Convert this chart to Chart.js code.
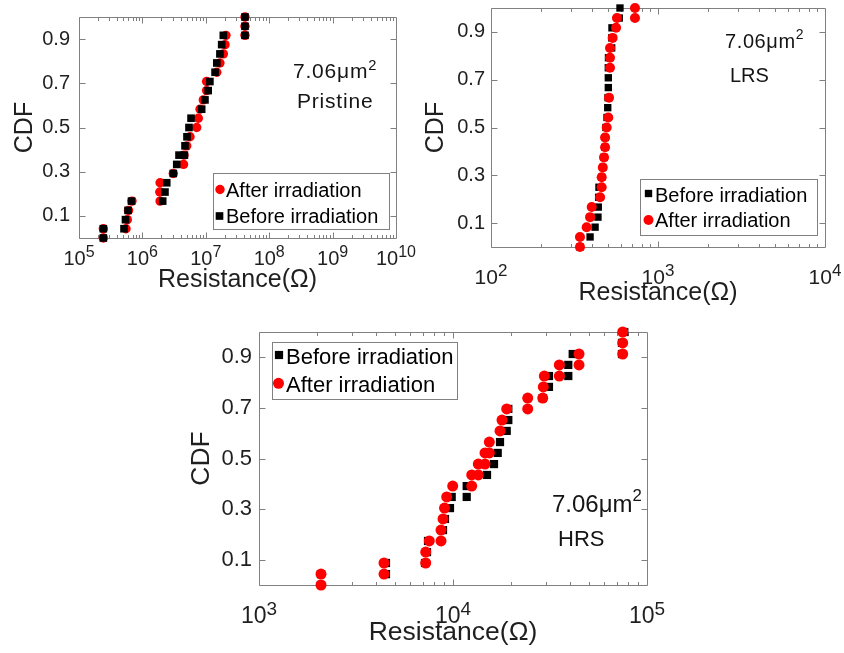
<!DOCTYPE html>
<html>
<head>
<meta charset="utf-8">
<script src="https://cdn.jsdelivr.net/npm/chart.js@4/dist/chart.umd.min.js"></script>
<style>
html,body{margin:0;padding:0;background:#fff;}
#wrap{position:relative;width:844px;height:653px;overflow:hidden;background:#fff;font-family:"Liberation Sans",Arial,sans-serif;color:#141414;}
canvas{position:absolute;}
.note{position:absolute;white-space:nowrap;line-height:1;}
.sup{font-size:0.7em;position:relative;}
</style>
</head>
<body>
<div id="wrap">
  <canvas id="cPristine" width="420" height="305" style="left:0;top:0;width:420px;height:305px"></canvas>
  <canvas id="cLRS" width="424" height="315" style="left:420px;top:0;width:424px;height:315px"></canvas>
  <canvas id="cHRS" width="500" height="338" style="left:170px;top:315px;width:500px;height:338px"></canvas>
  <div class="note" style="left:293px;top:60px;font-size:21px;letter-spacing:0.8px">7.06μm<span class="sup" style="top:-8px">2</span></div>
  <div class="note" style="left:297px;top:90px;font-size:21px;letter-spacing:0.8px">Pristine</div>
  <div class="note" style="left:725px;top:31px;font-size:20px;letter-spacing:0.6px">7.06μm<span class="sup" style="top:-9px">2</span></div>
  <div class="note" style="left:730px;top:65px;font-size:20px">LRS</div>
  <div class="note" style="left:552px;top:492px;font-size:24px">7.06μm<span class="sup" style="top:-11px">2</span></div>
  <div class="note" style="left:558px;top:528px;font-size:22px">HRS</div>
</div>
<script>
// ---------------- data ----------------
const seriesLabels = ['Before irradiation', 'After irradiation'];
const cdfTicks = [0.1, 0.3, 0.5, 0.7, 0.9];
const pristineXTicks = [1e5, 1e6, 1e7, 1e8, 1e9, 1e10];
const lrsXTicks = [1e2, 1e3, 1e4];
const hrsXTicks = [1e3, 1e4, 1e5];

// Pristine (Ohm)
const pristineBeforeR = [2.42e5, 2.42e5, 5.13e5, 5.41e5, 5.93e5, 6.73e5, 2.09e6, 2.27e6, 2.42e6, 3.07e6, 3.48e6, 3.78e6, 4.6e6, 4.70e6, 5.05e6, 5.43e6, 5.85e6, 8.61e6, 9.70e6, 1.09e7, 1.16e7, 1.40e7, 1.49e7, 1.67e7, 1.78e7, 1.89e7, 4.15e7, 4.15e7, 4.15e7];
const pristineBeforeCDF = [0, 0.042, 0.042, 0.083, 0.125, 0.167, 0.167, 0.208, 0.25, 0.292, 0.333, 0.375, 0.375, 0.417, 0.458, 0.5, 0.542, 0.583, 0.625, 0.667, 0.708, 0.75, 0.792, 0.833, 0.875, 0.917, 0.917, 0.958, 1];
const pristineAfterR = [2.42e5, 2.42e5, 5.51e5, 5.78e5, 6.04e5, 6.85e5, 1.90e6, 1.88e6, 1.90e6, 3.07e6, 4.45e6, 4.53e6, 5.00e6, 5.64e6, 7.19e6, 7.62e6, 8.11e6, 9.14e6, 1.03e7, 1.03e7, 1.49e7, 1.67e7, 1.89e7, 2.01e7, 2.08e7, 4.15e7, 4.15e7, 4.15e7];
const pristineAfterCDF = [0, 0.042, 0.042, 0.083, 0.125, 0.167, 0.167, 0.208, 0.25, 0.292, 0.333, 0.375, 0.417, 0.458, 0.5, 0.542, 0.583, 0.625, 0.667, 0.708, 0.75, 0.792, 0.833, 0.875, 0.917, 0.917, 0.958, 1];

// LRS (Ohm)
const lrsBeforeR = [341, 392, 420, 437, 439, 441, 443, 460, 467, 475, 482, 484, 488, 495, 500, 502, 504, 504, 504, 505, 528, 528, 530, 586, 592];
const lrsBeforeCDF = [0, 0.042, 0.083, 0.125, 0.167, 0.208, 0.25, 0.292, 0.333, 0.375, 0.417, 0.458, 0.5, 0.542, 0.583, 0.625, 0.667, 0.708, 0.75, 0.792, 0.833, 0.875, 0.917, 0.958, 1];
const lrsAfterR = [341, 341, 374, 392, 401, 450, 460, 460, 467, 475, 482, 482, 493, 504, 509, 516, 516, 516, 535, 561, 568, 728, 728];
const lrsAfterCDF = [0, 0.042, 0.083, 0.125, 0.167, 0.208, 0.25, 0.292, 0.333, 0.375, 0.417, 0.458, 0.5, 0.542, 0.625, 0.75, 0.792, 0.833, 0.875, 0.917, 0.958, 0.958, 1];

// HRS (Ohm)
const hrsBeforeR = [2087, 2087, 4514, 4514, 7173, 7345, 7432, 8882, 9094, 9650, 9847, 11765, 11765, 14976, 16268, 17002, 17473, 18918, 19282, 19282, 29008, 31241, 31241, 39295, 39295, 41400, 74310, 74310, 76380];
const hrsBeforeCDF = [0, 0.043, 0.043, 0.087, 0.087, 0.13, 0.174, 0.217, 0.261, 0.304, 0.348, 0.348, 0.391, 0.435, 0.478, 0.522, 0.565, 0.609, 0.652, 0.696, 0.739, 0.783, 0.826, 0.826, 0.87, 0.913, 0.913, 0.957, 1];
const hrsAfterR = [2087, 2087, 4410, 4410, 7233, 7233, 7547, 8674, 8674, 8882, 9041, 9279, 9965, 12489, 12489, 13502, 13502, 14622, 14622, 15386, 15386, 17473, 17884, 18918, 24272, 24272, 29008, 29215, 29560, 35318, 35318, 44620, 44620, 74929, 74929, 74929];
const hrsAfterCDF = [0, 0.043, 0.043, 0.087, 0.087, 0.13, 0.174, 0.174, 0.217, 0.261, 0.304, 0.348, 0.391, 0.391, 0.435, 0.435, 0.478, 0.478, 0.522, 0.522, 0.565, 0.609, 0.652, 0.696, 0.696, 0.739, 0.739, 0.783, 0.826, 0.826, 0.87, 0.87, 0.913, 0.913, 0.957, 1];

// ---------------- helpers ----------------
const FONT = '"Liberation Sans", Arial, sans-serif';
const TXT = '#1f1f1f';
const FRAME = '#808080';
function pts(xs, ys) { return xs.map((x, i) => ({x: x, y: ys[i]})); }

const panelStyles = {};

// frame with inward major/minor ticks (MATLAB-like box)
const framePlugin = {
  id: 'matlabFrame',
  beforeDatasetsDraw(chart) {
    const {ctx, chartArea: a, scales} = chart;
    const xs = scales.x, ys = scales.y;
    const L = Math.round(a.left) + 0.5, R = Math.round(a.right) + 0.5;
    const T = Math.round(a.top) + 0.5, B = Math.round(a.bottom) + 0.5;
    ctx.save();
    ctx.strokeStyle = FRAME;
    ctx.lineWidth = 1;
    ctx.beginPath();
    ctx.rect(L, T, R - L, B - T);
    const lo = Math.round(Math.log10(xs.min)), hi = Math.round(Math.log10(xs.max));
    for (let e = lo; e < hi; e++) {
      for (let m = 1; m <= 9; m++) {
        const v = m * Math.pow(10, e);
        const px = Math.round(xs.getPixelForValue(v)) + 0.5;
        const len = m === 1 ? 6 : 3.5;
        ctx.moveTo(px, B); ctx.lineTo(px, B - len);
        ctx.moveTo(px, T); ctx.lineTo(px, T + len);
      }
    }
    ys.ticks.forEach(t => {
      const py = Math.round(ys.getPixelForValue(t.value)) + 0.5;
      ctx.moveTo(L, py); ctx.lineTo(L + 6, py);
      ctx.moveTo(R, py); ctx.lineTo(R - 6, py);
    });
    ctx.stroke();
    ctx.restore();
  },
  // x tick labels 10^n with a true superscript, placed at the scale's tick positions
  afterDraw(chart) {
    const st = panelStyles[chart.canvas.id];
    const {ctx, chartArea: a} = chart;
    const xs = chart.scales.x;
    ctx.save();
    ctx.fillStyle = TXT;
    ctx.textBaseline = 'alphabetic';
    ctx.textAlign = 'left';
    xs.ticks.forEach(t => {
      const px = xs.getPixelForValue(t.value);
      const base = '10';
      const exp = String(Math.round(Math.log10(t.value)));
      ctx.font = st.xLabelSize + 'px ' + FONT;
      const wb = ctx.measureText(base).width;
      ctx.font = st.xExpSize + 'px ' + FONT;
      const we = ctx.measureText(exp).width;
      const x0 = px - (wb + we) / 2;
      const yb = a.bottom + st.xLabelBase;
      ctx.font = st.xLabelSize + 'px ' + FONT;
      ctx.fillText(base, x0, yb);
      ctx.font = st.xExpSize + 'px ' + FONT;
      ctx.fillText(exp, x0 + wb, yb - st.xExpRaise);
    });
    ctx.restore();
  }
};

const boxLegendPlugin = {
  id: 'boxLegend',
  afterDatasetsDraw(chart) {
    const o = panelStyles[chart.canvas.id].legend;
    const ctx = chart.ctx;
    ctx.save();
    ctx.fillStyle = '#ffffff';
    ctx.fillRect(o.x, o.y, o.w, o.h);
    ctx.strokeStyle = FRAME;
    ctx.lineWidth = 1;
    ctx.strokeRect(Math.round(o.x) + 0.5, Math.round(o.y) + 0.5, Math.round(o.w), Math.round(o.h));
    o.rows.forEach(r => {
      const ds = chart.data.datasets[r.index];
      ctx.fillStyle = ds.backgroundColor;
      if (ds.pointStyle === 'circle') {
        ctx.beginPath(); ctx.arc(r.mx, r.my, ds.pointRadius, 0, Math.PI * 2); ctx.fill();
      } else {
        const s = ds.pointRadius * Math.SQRT1_2;
        ctx.fillRect(r.mx - s, r.my - s, 2 * s, 2 * s);
      }
      ctx.fillStyle = '#000';
      ctx.font = o.fontSize + 'px ' + FONT;
      ctx.textBaseline = 'alphabetic';
      ctx.textAlign = 'left';
      ctx.fillText(ds.label, o.textX, r.baseline);
    });
    ctx.restore();
  }
};

function makePanel(id, p) {
  panelStyles[id] = p;
  const datasets = [
    {label: seriesLabels[0], data: pts(p.beforeR, p.beforeCDF), pointStyle: 'rect', pointRadius: p.sq, backgroundColor: '#000000', borderWidth: 0, order: p.beforeOrder, clip: false},
    {label: seriesLabels[1], data: pts(p.afterR, p.afterCDF), pointStyle: 'circle', pointRadius: p.circ, backgroundColor: '#ff0000', borderWidth: 0, order: p.afterOrder, clip: false}
  ];
  if (p.afterFirst) datasets.reverse();
  new Chart(document.getElementById(id), {
    type: 'scatter',
    data: {datasets: datasets},
    options: {
      responsive: false, animation: false, devicePixelRatio: 1, events: [],
      layout: {padding: {top: p.padTop, right: p.padRight, left: 0, bottom: 0}},
      plugins: {legend: {display: false}, tooltip: {enabled: false}},
      elements: {point: {hoverRadius: 0}},
      scales: {
        x: {
          type: 'logarithmic', min: p.xTicks[0], max: p.xTicks[p.xTicks.length - 1],
          afterBuildTicks: s => { s.ticks = p.xTicks.map(v => ({value: v})); },
          afterFit: s => { s.height = p.xH; s.paddingLeft = 0; s.paddingRight = 0; },
          grid: {display: false, drawTicks: false}, border: {display: false},
          ticks: {display: false},
          title: {display: true, text: 'Resistance(Ω)', color: TXT, font: {family: FONT, size: p.titleSize}, padding: {top: 0, bottom: p.xTitlePad}}
        },
        y: {
          type: 'linear', min: 0, max: 1,
          afterBuildTicks: s => { s.ticks = cdfTicks.map(v => ({value: v})); },
          afterFit: s => { s.width = p.yW; s.paddingTop = 0; s.paddingBottom = 0; },
          grid: {display: false, drawTicks: false}, border: {display: false},
          ticks: {callback: v => Number(v).toFixed(1), font: {family: FONT, size: p.tickSize}, color: TXT, padding: p.yTickPad},
          title: {display: true, text: 'CDF', color: TXT, font: {family: FONT, size: p.titleSize}, padding: {top: p.yTitlePad, bottom: 0}}
        }
      }
    },
    plugins: [framePlugin, boxLegendPlugin]
  });
}

// Pristine: legend lists "After" first, black drawn on top
makePanel('cPristine', {
  beforeR: pristineBeforeR, beforeCDF: pristineBeforeCDF, afterR: pristineAfterR, afterCDF: pristineAfterCDF,
  afterFirst: true, beforeOrder: 1, afterOrder: 2, sq: 5.4, circ: 4.7,
  xTicks: pristineXTicks, padTop: 17, padRight: 24, yW: 79, xH: 67,
  tickSize: 20, titleSize: 25, yTickPad: 9, xTitlePad: 10, yTitlePad: 10,
  xLabelSize: 20, xExpSize: 16, xLabelBase: 27, xExpRaise: 8,
  legend: {x: 213, y: 173, w: 176, h: 56, textX: 226, fontSize: 20,
    rows: [{index: 0, mx: 220, my: 189.5, baseline: 196.5}, {index: 1, mx: 219.5, my: 216, baseline: 223.3}]}
});

// LRS: "Before" first, red drawn on top
makePanel('cLRS', {
  beforeR: lrsBeforeR, beforeCDF: lrsBeforeCDF, afterR: lrsAfterR, afterCDF: lrsAfterCDF,
  afterFirst: false, beforeOrder: 2, afterOrder: 1, sq: 5.2, circ: 5,
  xTicks: lrsXTicks, padTop: 8, padRight: 19, yW: 71, xH: 68,
  tickSize: 20, titleSize: 25, yTickPad: 6, xTitlePad: 6.5, yTitlePad: 1.5,
  xLabelSize: 21, xExpSize: 17, xLabelBase: 37, xExpRaise: 8.5,
  legend: {x: 220, y: 179, w: 177, h: 56, textX: 235, fontSize: 20,
    rows: [{index: 0, mx: 228.5, my: 193.5, baseline: 201.7}, {index: 1, mx: 228.5, my: 220, baseline: 226.7}]}
});

// HRS: "Before" first, red drawn on top
makePanel('cHRS', {
  beforeR: hrsBeforeR, beforeCDF: hrsBeforeCDF, afterR: hrsAfterR, afterCDF: hrsAfterCDF,
  afterFirst: false, beforeOrder: 2, afterOrder: 1, sq: 5.8, circ: 5.5,
  xTicks: hrsXTicks, padTop: 17, padRight: 23, yW: 89, xH: 68,
  tickSize: 22, titleSize: 26.5, yTickPad: 7, xTitlePad: 4, yTitlePad: 16,
  xLabelSize: 23, xExpSize: 19, xLabelBase: 38, xExpRaise: 8.5,
  legend: {x: 102, y: 27, w: 185, h: 57, textX: 116, fontSize: 22,
    rows: [{index: 0, mx: 109, my: 40, baseline: 49}, {index: 1, mx: 108.5, my: 68.3, baseline: 77.3}]}
});
</script>
</body>
</html>
